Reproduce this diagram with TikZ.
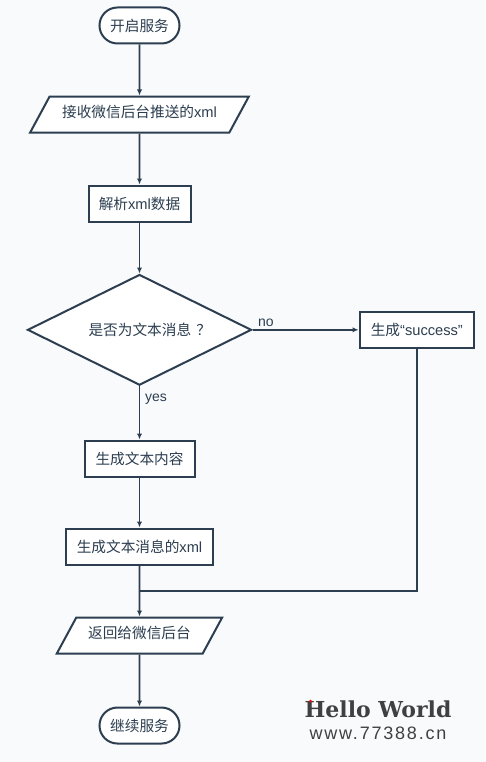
\documentclass[tikz,border=0pt]{standalone}
\usepackage{fontspec}
\setmainfont{Noto Sans CJK SC}
\newfontfamily\lat{Liberation Sans}
\newfontfamily\sitefont[LetterSpace=10]{Liberation Sans}
\newfontfamily\markfont{DejaVu Serif}
\usetikzlibrary{arrows.meta,calc,positioning,shapes.geometric,shapes.misc}
\definecolor{SlateLine}{HTML}{2C3E50}
\definecolor{PageTint}{HTML}{F8FAFC}
\definecolor{MarkGray}{HTML}{404040}

\begin{document}
\begin{tikzpicture}[x=.75pt,y=.75pt,node distance=38.25pt and 79.5pt,
    base/.style={draw=SlateLine,line width=1.5pt,fill=white,text=SlateLine,
                 font=\fontsize{11}{12}\selectfont,inner sep=0pt,minimum height=27pt},
    term/.style={base,rounded rectangle,minimum width=60pt},
    proc/.style={base,rectangle},
    io/.style={base,trapezium,trapezium left angle=61.6,trapezium right angle=118.4,
               trapezium stretches body=true,text height=8pt,text depth=3pt,inner ysep=8pt},
    dec/.style={base,diamond,shape aspect=2,minimum width=168pt,minimum height=83pt},
    arr/.style={-{Latex[length=4.5pt,width=4pt]},line width=1.3pt,SlateLine},
    wire/.style={line width=1.3pt,SlateLine},
    lbl/.style={text=SlateLine,font=\lat\fontsize{10.5}{12}\selectfont,inner sep=0pt}]
    \fill[PageTint] (0,0) rectangle (485,-762);
    \node[term] (start) at (139.5,-25.5) {开启服务};
    \node[io,minimum width=164pt,below=of start] (recv) {接收微信后台推送的{\lat xml}};
    \node[proc,minimum width=76.5pt,below=of recv] (parse) {解析{\lat xml}数据};
    \node[dec,below=of parse] (istext) {\hspace{15.5pt}是否为文本消息\hspace{4pt}？};
    \node[proc,minimum width=86pt,right=of istext] (succ) {生成{\lat “success”}};
    \node[proc,minimum width=82.5pt,below=40pt of istext] (content) {生成文本内容};
    \node[proc,minimum width=110pt,below=37.5pt of content] (reply) {生成文本消息的{\lat xml}};
    \node[io,minimum width=124pt,below=of reply] (back) {返回给微信后台};
    \node[term,below=39pt of back] (stop) {继续服务};
    \coordinate (merge) at ($(reply.south)!.5!(back.north)$);
    \draw[arr] (start)--(recv);
    \draw[arr] (recv)--(parse);
    \draw[arr] (parse)--(istext);
    \draw[arr] (istext)--(succ);
    \draw[arr] (istext)--(content);
    \draw[arr] (content)--(reply);
    \draw[arr] (reply)--(back);
    \draw[arr] (back)--(stop);
    \draw[wire] (succ.south)|-(merge);
    \node[lbl,above right=2.5pt and 4pt of istext.east] (no) {no};
    \node[lbl,below right=6pt and 4pt of istext.south] (yes) {yes};
    \node[inner sep=0pt,text=MarkGray,font=\markfont\bfseries\fontsize{16.5}{17}\selectfont] (hello) at (378,-709) {Hello World};
    \node[inner sep=0pt,text=MarkGray,font=\sitefont\fontsize{13.5}{14}\selectfont] (site) at (378,-733) {www.77388.cn};
    \fill[red] (310.5,-701) circle (1.5);
\end{tikzpicture}
\end{document}
